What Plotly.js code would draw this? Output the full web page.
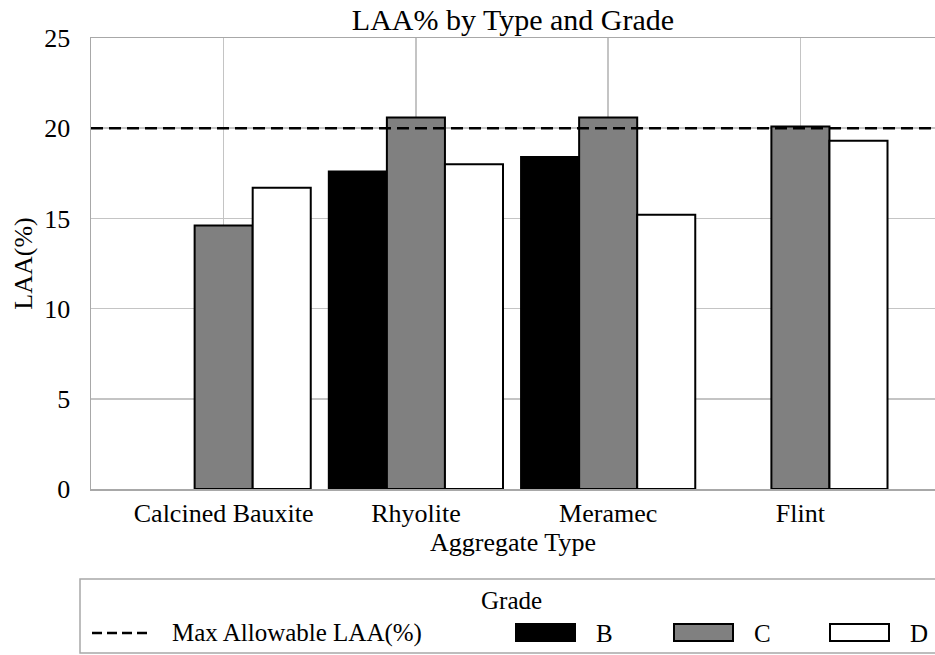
<!DOCTYPE html>
<html>
<head>
<meta charset="utf-8">
<script src="https://cdn.plot.ly/plotly-3.0.1.min.js"></script>
<style>
html,body{margin:0;padding:0;background:#fff;}
#chart{width:935px;height:655px;}
</style>
</head>
<body>
<div id="chart"></div>
<script>
// ---- data ----
const categories = ["Calcined Bauxite", "Rhyolite", "Meramec", "Flint"];
const gradeB = [null, 17.6, 18.4, null];
const gradeC = [14.6, 20.6, 20.6, 20.1];
const gradeD = [16.7, 18.0, 15.2, 19.3];
const maxAllowable = 20;
const seriesNames = ["B", "C", "D"];
const lineName = "Max Allowable LAA(%)";
const legendTitle = "Grade";
const yTicks = [0, 5, 10, 15, 20, 25];

// ---- style ----
const SERIF = "Liberation Serif";
const fills = ["#000000", "#808080", "#ffffff"];
const outline = {color: "#000", width: 2};
const dashStyle = {color: "#000", width: 2.5, dash: "12px,6px"};
const fnt = (size) => ({family: SERIF, size: size, color: "#000"});

const series = [gradeB, gradeC, gradeD];
const traces = [
  {
    type: "scatter", mode: "lines", name: lineName,
    x: [0, 1], y: [maxAllowable, maxAllowable], xaxis: "x2", yaxis: "y",
    line: dashStyle, hoverinfo: "skip", showlegend: false
  }
].concat(series.map((vals, i) => ({
  type: "bar", name: seriesNames[i], x: categories, y: vals,
  marker: {color: fills[i], line: outline}, showlegend: false
})));

// ---- legend drawn in pixel positions converted to paper coords ----
const PL = 91, PR = 935, PT = 38, PB = 489;
const px = v => (v - PL) / (PR - PL);
const py = v => (PB - v) / (PB - PT);

const shapes = [
  {type: "rect", xref: "paper", yref: "paper", x0: px(80), x1: px(945), y0: py(653), y1: py(579),
   line: {color: "#a8a8a8", width: 1.5}, fillcolor: "rgba(0,0,0,0)", layer: "above"},
  {type: "line", xref: "paper", yref: "paper", x0: px(92), x1: px(149), y0: py(633), y1: py(633),
   line: {color: "#000", width: 2.5, dash: "10px,5px"}}
];
const annotations = [
  {xref: "paper", yref: "paper", x: px(511), y: py(600), text: legendTitle, showarrow: false,
   xanchor: "center", yanchor: "middle", font: fnt(25)},
  {xref: "paper", yref: "paper", x: px(170), y: py(633), text: lineName, showarrow: false,
   xanchor: "left", yanchor: "middle", font: fnt(25)}
];
const swatchX = [516, 674, 830];
seriesNames.forEach((n, i) => {
  shapes.push({type: "rect", xref: "paper", yref: "paper",
    x0: px(swatchX[i]), x1: px(swatchX[i] + 59), y0: py(641), y1: py(624),
    fillcolor: fills[i], line: {color: "#000", width: 2}});
  annotations.push({xref: "paper", yref: "paper", x: px(swatchX[i] + 78), y: py(633), text: n,
    showarrow: false, xanchor: "left", yanchor: "middle", font: fnt(25)});
});

const layout = {
  width: 935, height: 655,
  margin: {l: PL, r: 935 - PR, t: PT, b: 655 - PB},
  paper_bgcolor: "#fff", plot_bgcolor: "#fff",
  font: fnt(26),
  title: {text: "LAA% by Type and Grade", font: fnt(30),
          x: 0.5, xref: "paper", xanchor: "center", y: 0.97, yref: "container", yanchor: "middle"},
  barmode: "group", bargap: 0.094, bargroupgap: 0,
  xaxis: {
    type: "category", range: [-0.69, 3.70],
    showgrid: true, gridcolor: "#c4c4c4", gridwidth: 1.5,
    showline: true, mirror: true, linecolor: "#a8a8a8", linewidth: 1.5,
    ticks: "", tickfont: fnt(26), ticklabelstandoff: 0,
    title: {text: "Aggregate Type", font: fnt(26), standoff: 2}
  },
  xaxis2: {overlaying: "x", range: [0, 1], visible: false, fixedrange: true},
  yaxis: {
    range: [0, 25], tickvals: yTicks, ticktext: yTicks.map(String),
    showgrid: true, gridcolor: "#c4c4c4", gridwidth: 1.5,
    showline: true, mirror: true, linecolor: "#a8a8a8", linewidth: 1.5,
    zeroline: false, ticks: "", tickfont: fnt(26), ticklabelstandoff: 14,
    title: {text: "LAA(%)", font: fnt(26), standoff: 4}
  },
  showlegend: false,
  shapes: shapes,
  annotations: annotations
};

Plotly.newPlot("chart", traces, layout, {displayModeBar: false, staticPlot: true});
</script>
</body>
</html>
